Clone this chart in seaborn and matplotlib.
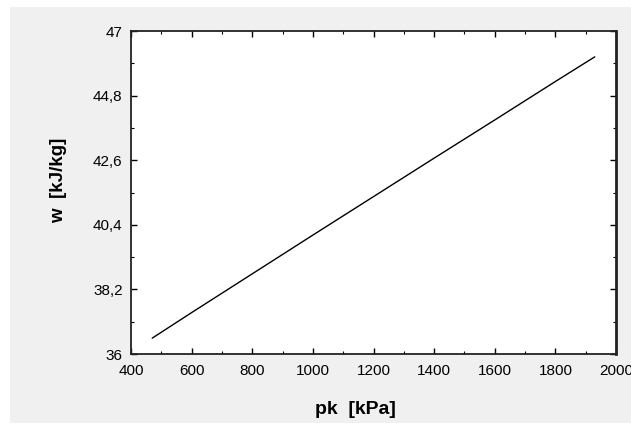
import matplotlib
matplotlib.use("Agg")
import matplotlib.pyplot as plt
from matplotlib.patches import Rectangle
from matplotlib.lines import Line2D
from matplotlib.ticker import MultipleLocator, FixedLocator, FuncFormatter
import seaborn as sns
import pandas as pd

# data
pk = [470, 600, 800, 1000, 1200, 1400, 1600, 1800, 1930]
w = [36.54, 37.41, 38.73, 40.05, 41.36, 42.67, 43.97, 45.28, 46.12]
x_ticks = [400, 600, 800, 1000, 1200, 1400, 1600, 1800, 2000]
y_ticks = [36, 38.2, 40.4, 42.6, 44.8, 47]

sns.set_style("white")
plt.rcParams['font.family'] = ['Liberation Sans', 'DejaVu Sans']

W, H = 631, 434
fig = plt.figure(figsize=(W / 100, H / 100), dpi=100)
fig.patch.set_facecolor("white")

# grey panel behind everything
bg = fig.add_axes([0, 0, 1, 1], zorder=-5)
bg.set_xlim(0, W)
bg.set_ylim(H, 0)
bg.axis("off")
bg.add_patch(Rectangle((10, 7), W - 10, 423 - 7, facecolor="#f0f0f0", edgecolor="none"))
# resize grip decoration in the corner
for off in (0, 5, 10):
    bg.add_line(Line2D([598 + off, 613], [350, 335 + off], color="#999999", linewidth=1.3, zorder=10))

ax = fig.add_axes([131 / W, 1 - 354 / H, (616 - 131) / W, (354 - 31) / H], zorder=1)
ax.set_facecolor("white")
df = pd.DataFrame({"pk": pk, "w": w})
sns.lineplot(data=df, x="pk", y="w", ax=ax, color="black", linewidth=1.0)

ax.set_xlim(400, 2000)
ax.set_ylim(36, 47)
ax.xaxis.set_major_locator(FixedLocator(x_ticks))
ax.xaxis.set_minor_locator(MultipleLocator(100))
ax.yaxis.set_major_locator(FixedLocator(y_ticks))
minor_y = [(a + b) / 2 for a, b in zip(y_ticks[:-1], y_ticks[1:])]
ax.yaxis.set_minor_locator(FixedLocator(minor_y))

def yfmt(v, pos):
    s = f"{v:.1f}".rstrip("0").rstrip(".")
    return s.replace(".", ",")
ax.yaxis.set_major_formatter(FuncFormatter(yfmt))

ax.tick_params(which="both", direction="in", top=True, right=True, bottom=True, left=True,
               colors="black", labelcolor="black")
ax.tick_params(which="major", length=4.5, width=1.0, labelsize=11, pad=6)
ax.tick_params(which="minor", length=2.5, width=0.8)
ax.tick_params(axis="x", which="major", pad=7)

for s in ax.spines.values():
    s.set_visible(True)
    s.set_color("#222222")
    s.set_linewidth(1.3)
ax.spines["right"].set_linewidth(2.0)

ax.set_xlabel("")
ax.set_ylabel("")
fig.text(355 / W, 1 - 409 / H, "pk  [kPa]", ha="center", va="center",
         fontsize=14, fontweight="bold", color="black")
fig.text(59 / W, 1 - 180 / H, "w  [kJ/kg]", ha="center", va="center",
         rotation=90, fontsize=13.5, fontweight="bold", color="black")

fig.savefig("out.png", dpi=100, facecolor=fig.get_facecolor())
